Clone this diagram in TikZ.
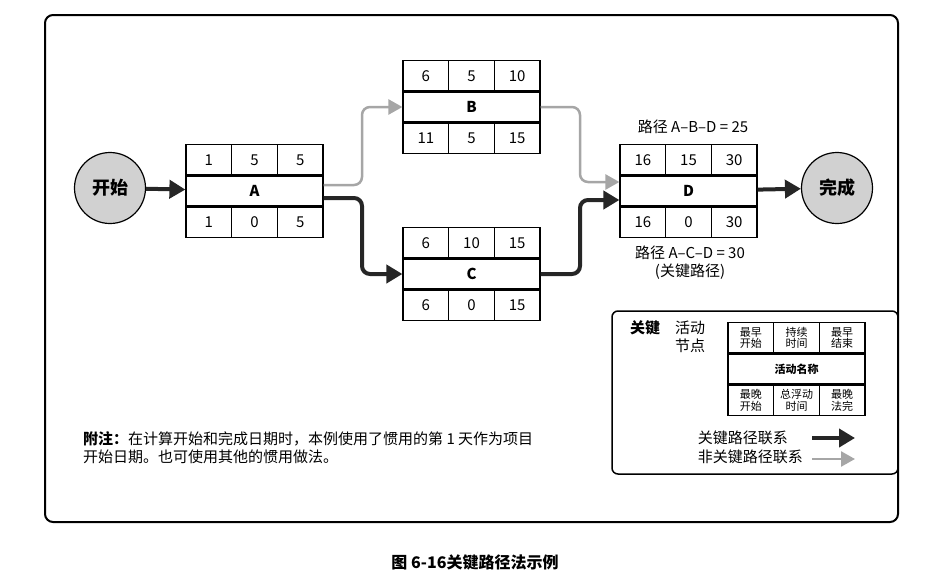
\documentclass[tikz,border=0pt]{standalone}
\usepackage{fontspec}
\setmainfont{Noto Sans CJK SC}
\usetikzlibrary{arrows.meta,calc}
\newcommand\actbox[9]{%
  \node[cell,minimum width=137pt] (#1) at (#2) {\bfseries #3};
  \node[cell,anchor=south west] (#1es) at ($(#1.north west)$) {#4};
  \node[cell,anchor=south] (#1du) at ($(#1.north)$) {#5};
  \node[cell,anchor=south east] (#1ef) at ($(#1.north east)$) {#6};
  \node[cell,anchor=north west] (#1ls) at ($(#1.south west)$) {#7};
  \node[cell,anchor=north] (#1fl) at ($(#1.south)$) {#8};
  \node[cell,anchor=north east] (#1lf) at ($(#1.south east)$) {#9};
}
\begin{document}
\begin{tikzpicture}[x=1pt,y=-1pt,
  cell/.style={draw,line width=1.2pt,minimum width=45.67pt,minimum height=30pt,inner sep=0pt,font=\fontsize{15}{15}\selectfont},
  mini/.style={draw,line width=1.2pt,minimum width=45.67pt,minimum height=30pt,inner sep=0pt,align=center,font=\fontsize{11}{11.5}\selectfont},
  ev/.style={circle,draw,line width=1.2pt,fill=black!18,minimum size=71pt,inner sep=0pt,font=\fontsize{18}{18}\selectfont\bfseries},
  crit/.style={line width=4pt,black!85,-{Triangle[length=16pt,width=18pt]},rounded corners=8pt},
  ncrit/.style={line width=2.5pt,black!35,-{Triangle[length=14pt,width=15pt]},rounded corners=8pt},
  txt/.style={inner sep=0pt,font=\fontsize{15}{18}\selectfont}]
\useasboundingbox (0,0) rectangle (950,587);
\draw[line width=2pt,rounded corners=8pt] (45,15) rectangle (898,522);
\node[font=\fontsize{16}{16}\selectfont\bfseries] (cap) at (475,562) {图 6-16关键路径法示例};
\node[ev] (start) at (110,188) {开始};
\node[ev] (fin) at (837,188) {完成};
\actbox{A}{254.5,191}{A}{1}{5}{5}{1}{0}{5}
\actbox{B}{471.5,107}{B}{6}{5}{10}{11}{5}{15}
\actbox{C}{471.5,274}{C}{6}{10}{15}{6}{0}{15}
\actbox{D}{688.5,191}{D}{16}{15}{30}{16}{0}{30}
\draw[crit] (start) -- (A);
\draw[crit] (D) -- (fin);
\draw[ncrit] ($(A.east)+(0,-6)$) -| (362,107) -- (B.west);
\draw[crit] ($(A.east)+(0,7)$) -| (362,274) -- (C.west);
\draw[ncrit] (B.east) -| (580,182) -- ($(D.west)+(0,-9)$);
\draw[crit] (C.east) -| (580,200) -- ($(D.west)+(0,9)$);
\node[txt] (lab1) at (693,127) {路径 A–B–D = 25};
\node[txt,align=center] (lab2) at (690,263) {路径 A–C–D = 30\\(关键路径)};
\node[txt,anchor=west,align=left] (note) at (83,448) {\textbf{附注：}在计算开始和完成日期时，本例使用了惯用的第 1 天作为项目\\开始日期。也可使用其他的惯用做法。};
% legend
\draw[line width=1.5pt,rounded corners=6pt] (612,311) rectangle (898,474);
\node[txt,font=\fontsize{15}{15}\selectfont\bfseries] (key) at (645,328) {关键};
\node[txt,align=center] (kn) at (690,337) {活动\\节点};
\node[mini,minimum width=137pt,font=\fontsize{11}{11}\selectfont\bfseries] (L) at (796.5,369) {活动名称};
\node[mini,anchor=south west] (L1) at (L.north west) {最早\\开始};
\node[mini,anchor=south] (L2) at (L.north) {持续\\时间};
\node[mini,anchor=south east] (L3) at (L.north east) {最早\\结束};
\node[mini,anchor=north west] (L4) at (L.south west) {最晚\\开始};
\node[mini,anchor=north] (L5) at (L.south) {总浮动\\时间};
\node[mini,anchor=north east] (L6) at (L.south east) {最晚\\法完};
\node[txt,anchor=east] (kc) at (788,438) {关键路径联系};
\node[txt,anchor=east] (knc) at (803,457) {非关键路径联系};
\coordinate (c1) at (812,438); \coordinate (c2) at (855,438);
\coordinate (n1) at (812,459); \coordinate (n2) at (855,459);
\draw[crit] (c1) -- (c2);
\draw[ncrit] (n1) -- (n2);
\end{tikzpicture}
\end{document}
